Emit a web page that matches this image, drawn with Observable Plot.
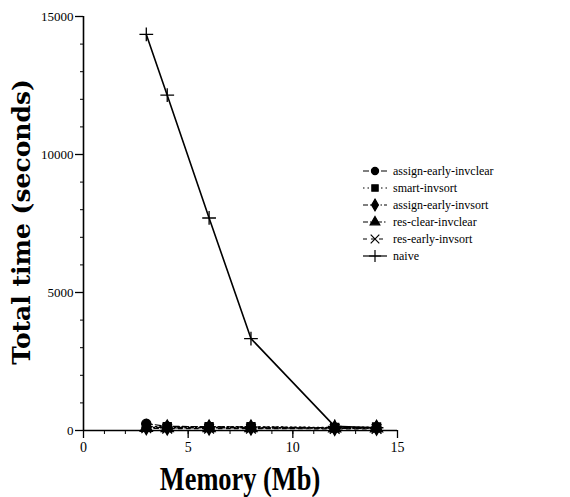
<!DOCTYPE html>
<html>
<head>
<meta charset="utf-8">
<script src="https://cdn.jsdelivr.net/npm/d3@7"></script>
<script src="https://cdn.jsdelivr.net/npm/@observablehq/plot@0.6"></script>
<style>
  html, body { margin: 0; padding: 0; background: #fff; }
  #chart { position: relative; width: 570px; height: 497px; }
</style>
</head>
<body>
<div id="chart"></div>
<script>
// Memory sizes (Mb) at which each strategy was timed
const memory = [3, 4, 6, 8, 12, 14];

// Total time (seconds) per strategy
const assignEarlyInvclear = [250, 150, 140, 130, 100, 110];
const smartInvsort        = [150, 140, 140, 140, 110, 130];
const assignEarlyInvsort  = [120, 110, 110, 110, 90, 100];
const resClearInvclear    = [100, 90, 90, 90, 80, 80];
const resEarlyInvsort     = [80, 70, 70, 70, 60, 60];
const naive               = [14350, 12150, 7700, 3330, 150, 100];

const seriesNames = [
  "assign-early-invclear", "smart-invsort", "assign-early-invsort",
  "res-clear-invclear", "res-early-invsort", "naive"
];
const seriesValues = [
  assignEarlyInvclear, smartInvsort, assignEarlyInvsort,
  resClearInvclear, resEarlyInvsort, naive
];

// Axis ticks
const xMajor = [0, 5, 10, 15];
const xMinor = d3.range(0, 16, 1);
const yMajor = [0, 5000, 10000, 15000];
const yMinor = d3.range(0, 15001, 1000);

// Per-series line dash and marker
const styles = [
  {dash: "6,3", symbol: "circle", filled: true},
  {dash: "1.5,3", symbol: "square", filled: true},
  {dash: "5,2,1.5,2", symbol: "diamond", filled: true},
  {dash: "5,2,1.5,2,1.5,2", symbol: "triangle", filled: true},
  {dash: "4,4", symbol: "times", filled: false},
  {dash: null, symbol: "plus", filled: false}
];

const rows = seriesNames.flatMap((name, i) =>
  memory.map((m, j) => ({series: name, memory: m, time: seriesValues[i][j]}))
);

const lineMarks = seriesNames.flatMap((name, i) => {
  const data = rows.filter(d => d.series === name);
  const s = styles[i];
  return [
    Plot.line(data, {
      x: "memory", y: "time", stroke: "#000",
      strokeWidth: name === "naive" ? 1.6 : 1.2,
      strokeDasharray: s.dash
    }),
    Plot.dot(data, {
      x: "memory", y: "time", symbol: () => s.symbol, r: s.filled ? 4.5 : 4.5,
      fill: s.filled ? "#000" : "none", stroke: "#000", strokeWidth: 1.3
    })
  ];
});

const W = 570, H = 497;
const blank = () => "";
const plot = Plot.plot({
  width: W,
  height: H,
  marginLeft: 83,
  marginRight: 173,
  marginTop: 16,
  marginBottom: 67,
  style: {fontFamily: "'Liberation Serif', serif", fontSize: "13px", color: "#000", background: "#fff"},
  symbol: {type: "identity"},
  x: {domain: [0, 15]},
  y: {domain: [0, 15000]},
  marks: [
    // minor ticks
    Plot.axisY({ticks: yMinor, tickSize: 3, tickFormat: blank, label: null, strokeWidth: 1}),
    Plot.axisX({ticks: xMinor, tickSize: 4, tickFormat: blank, label: null, strokeWidth: 1}),
    // major ticks with labels
    Plot.axisY({ticks: yMajor, tickSize: 8, tickPadding: 2, tickFormat: d3.format("d"), label: null, strokeWidth: 1.3, fontSize: 13}),
    Plot.axisX({ticks: xMajor, tickSize: 8, tickPadding: 4, tickFormat: d3.format("d"), label: null, strokeWidth: 1.3, fontSize: 14}),
    Plot.ruleY([0], {strokeWidth: 1.6}),
    Plot.ruleX([0], {strokeWidth: 1.6}),
    ...lineMarks
  ]
});
document.getElementById("chart").appendChild(plot);

const svg = d3.select(plot);

// Axis titles
svg.append("text")
  .attr("transform", "translate(30,222) rotate(-90)")
  .attr("text-anchor", "middle")
  .style("font-family", "'DejaVu Serif', serif")
  .style("font-weight", "bold")
  .style("font-size", "25px")
  .attr("fill", "#000")
  .text("Total time (seconds)");

svg.append("text")
  .attr("transform", "translate(240,490) scale(0.8,1)")
  .attr("text-anchor", "middle")
  .style("font-family", "'Liberation Serif', serif")
  .style("font-weight", "bold")
  .style("font-size", "33px")
  .attr("fill", "#000")
  .text("Memory (Mb)");

// Legend
const legend = svg.append("g").attr("transform", "translate(363,171)");
const symGen = {
  circle: d3.symbolCircle, square: d3.symbolSquare, diamond: d3.symbolDiamond,
  triangle: d3.symbolTriangle, times: d3.symbolTimes, plus: d3.symbolPlus
};
seriesNames.forEach((name, i) => {
  const s = styles[i];
  const g = legend.append("g").attr("transform", `translate(0,${i * 17})`);
  g.append("line").attr("x1", 0).attr("x2", 24).attr("y1", 0).attr("y2", 0)
    .attr("stroke", "#000").attr("stroke-width", 1.2)
    .attr("stroke-dasharray", s.dash);
  g.append("path").attr("transform", "translate(12,0)")
    .attr("d", d3.symbol(symGen[s.symbol], s.filled ? 40 : 50)())
    .attr("fill", s.filled ? "#000" : "none").attr("stroke", "#000").attr("stroke-width", 1.2);
  g.append("text").attr("x", 30).attr("y", 4)
    .attr("text-anchor", "start")
    .style("font-family", "'Liberation Serif', serif")
    .style("font-size", "12px")
    .attr("fill", "#000")
    .text(name);
});
</script>
</body>
</html>
